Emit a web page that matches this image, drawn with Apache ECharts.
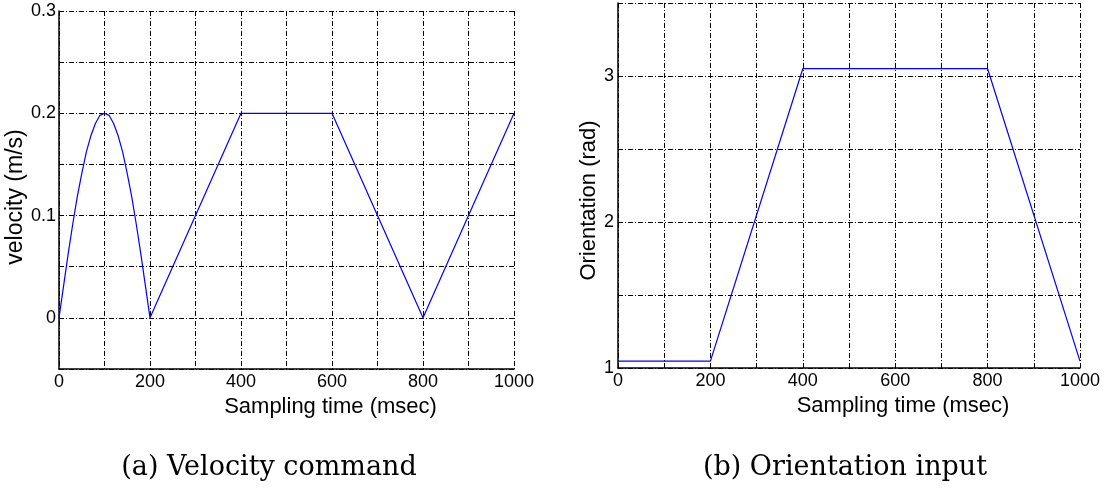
<!DOCTYPE html>
<html><head><meta charset="utf-8">
<script src="https://cdn.jsdelivr.net/npm/echarts@6/dist/echarts.min.js"></script>
<style>html,body{margin:0;padding:0;background:#fff}#c{width:1104px;height:493px}</style>
</head><body><div id="c"></div>
<script>
// Left panel: velocity command (time msec, velocity m/s)
const velTime = [0,10,20,30,40,50,60,70,80,90,100,110,120,130,140,150,160,170,180,190,200,400,600,800,1000];
const velValue = [0,0.031,0.062,0.091,0.118,0.141,0.162,0.178,0.190,0.198,0.2,0.198,0.190,0.178,0.162,0.141,0.118,0.091,0.062,0.031,0,0.2,0.2,0,0.2];
// Right panel: orientation input (time msec, rad)
const oriTime = [0,200,400,800,1000];
const oriValue = [1.047,1.047,3.05,3.05,1.047];
const xTickLabels = ['0','200','400','600','800','1000'];
const velTickLabels = ['0','0.1','0.2','0.3'];
const oriTickLabels = ['1','2','3'];
const captions = ['(a) Velocity command','(b) Orientation input'];
const xTitle = 'Sampling time (msec)';
const yTitles = ['velocity (m/s)','Orientation (rad)'];

const dash = [5,2,1,2];
const font = '"Liberation Sans", Arial, sans-serif';
function xAxis(gi, shift){
  return {type:'value',gridIndex:gi,min:0,max:1000,interval:100,
    name:xTitle,nameLocation:'middle',nameGap:19,
    nameTextStyle:{fontFamily:font,fontSize:22,color:'#000',padding:[0,0,0,shift*2]},
    axisLine:{show:true,onZero:false,lineStyle:{color:'#000',width:1.5}},
    axisTick:{show:false},
    axisLabel:{fontFamily:font,fontSize:18,color:'#000',margin:4,
      formatter:v=>{const s=String(Math.round(v));return xTickLabels.includes(s)?s:'';}},
    splitLine:{show:true,lineStyle:{color:'#000',type:dash,width:1}}};
}
const chart = echarts.init(document.getElementById('c'));
chart.setOption({
  animation:false,
  grid:[{left:59,top:11,width:455,height:358},{left:618,top:3,width:462,height:365}],
  xAxis:[xAxis(0,44),xAxis(1,54)],
  yAxis:[
    {type:'value',gridIndex:0,min:-0.05,max:0.3,interval:0.05,
      name:yTitles[0],nameLocation:'middle',nameGap:30,
      nameTextStyle:{fontFamily:font,fontSize:23,color:'#000',padding:[0,0,0,-14]},
      axisLine:{show:true,onZero:false,lineStyle:{color:'#000',width:1.5}},axisTick:{show:false},
      axisLabel:{fontFamily:font,fontSize:18,color:'#000',margin:3,
        formatter:v=>{const s=String(Math.round(v*100)/100);return velTickLabels.includes(s)?s:'';}},
      splitLine:{show:true,lineStyle:{color:'#000',type:dash,width:1}}},
    {type:'value',gridIndex:1,min:1,max:3.5,interval:0.5,
      name:yTitles[1],nameLocation:'middle',nameGap:18,
      nameTextStyle:{fontFamily:font,fontSize:22,color:'#000',padding:[0,0,0,-30]},
      axisLine:{show:true,onZero:false,lineStyle:{color:'#000',width:1.5}},axisTick:{show:false},
      axisLabel:{fontFamily:font,fontSize:18,color:'#000',margin:4,
        formatter:v=>{const s=String(Math.round(v*10)/10);return oriTickLabels.includes(s)?s:'';}},
      splitLine:{show:true,lineStyle:{color:'#000',type:dash,width:1}}}
  ],
  series:[
    {type:'line',xAxisIndex:0,yAxisIndex:0,data:velTime.map((t,i)=>[t,velValue[i]]),
      showSymbol:false,lineStyle:{color:'#0000ff',width:1.2},clip:false},
    {type:'line',xAxisIndex:1,yAxisIndex:1,data:oriTime.map((t,i)=>[t,oriValue[i]]),
      showSymbol:false,lineStyle:{color:'#0000ff',width:1.2},clip:false}
  ],
  graphic:[
    {type:'text',x:269,y:468,style:{text:captions[0],font:'27px "DejaVu Serif", serif',fill:'#000',textAlign:'center',textVerticalAlign:'middle'}},
    {type:'text',x:845,y:468,style:{text:captions[1],font:'27px "DejaVu Serif", serif',fill:'#000',textAlign:'center',textVerticalAlign:'middle'}}
  ]
});
</script></body></html>
